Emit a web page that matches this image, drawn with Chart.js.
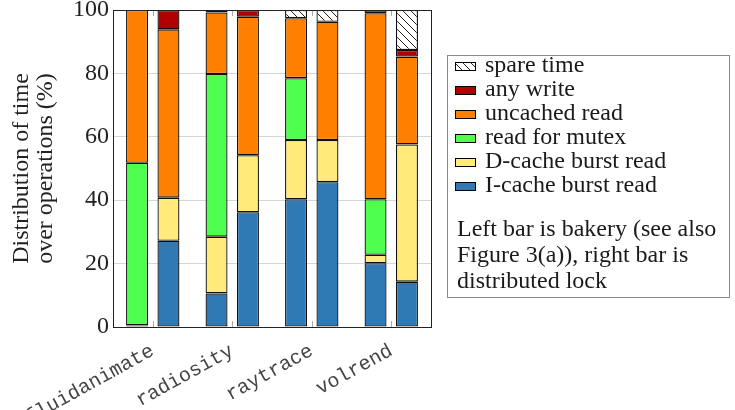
<!DOCTYPE html>
<html>
<head>
<meta charset="utf-8">
<title>Distribution of time over operations</title>
<script src="https://cdn.jsdelivr.net/npm/chart.js@4"></script>
<style>
  html, body { margin: 0; padding: 0; background: #fff; }
  #wrap { width: 735px; height: 410px; }
</style>
</head>
<body>
<div id="wrap"><canvas id="timeChart" width="735" height="410"></canvas></div>
<script>
// benchmarks, left bar = bakery, right bar = distributed lock
const categories = ['fluidanimate', 'radiosity', 'raytrace', 'volrend'];

// percent of time per operation (segments, bottom to top)
const icacheBakery   = [0.5, 10.6, 40.3, 20.1];
const icacheLock     = [27.2, 36.2, 45.7, 14.3];
const dcacheBakery   = [0, 17.9, 18.7, 2.7];
const dcacheLock     = [13.6, 18.0, 13.3, 43.3];
const mutexBakery    = [51.3, 51.3, 19.5, 17.5];
const mutexLock      = [0, 0, 0, 0];
const uncachedBakery = [48.2, 19.4, 18.9, 58.7];
const uncachedLock   = [53.1, 43.7, 37.3, 27.7];
const writeBakery    = [0, 0.8, 0, 1.0];
const writeLock      = [6.1, 2.1, 0, 2.1];
const spareBakery    = [0, 0, 2.6, 0];
const spareLock      = [0, 0, 3.7, 12.6];

const seriesNames = ['I-cache burst read', 'D-cache burst read', 'read for mutex',
                     'uncached read', 'any write', 'spare time'];
const bakeryData = [icacheBakery, dcacheBakery, mutexBakery, uncachedBakery, writeBakery, spareBakery];
const lockData   = [icacheLock, dcacheLock, mutexLock, uncachedLock, writeLock, spareLock];
const noteLines  = ['Left bar is bakery (see also', 'Figure 3(a)), right bar is', 'distributed lock'];

// hatch for spare time
function makeHatch() {
  const c = document.createElement('canvas');
  c.width = 8; c.height = 8;
  const g = c.getContext('2d');
  g.fillStyle = '#fff';
  g.fillRect(0, 0, 8, 8);
  g.strokeStyle = '#222';
  g.lineWidth = 1;
  g.beginPath();
  g.moveTo(0, 0); g.lineTo(8, 8);
  g.moveTo(-4, 4); g.lineTo(4, 12);
  g.moveTo(4, -4); g.lineTo(12, 4);
  g.stroke();
  return g.createPattern(c, 'repeat');
}
const hatch = makeHatch();
const colors = ['#2f79b5', '#ffea7a', '#4eff4e', '#ff8000', '#b00000', hatch];

const serif = 'Liberation Serif';

const datasets = [];
seriesNames.forEach(function (name, i) {
  [['bakery', bakeryData[i]], ['lock', lockData[i]]].forEach(function (pair) {
    datasets.push({
      label: name,
      stack: pair[0],
      data: pair[1].map(v => v === 0 ? null : v),
      backgroundColor: colors[i],
      borderColor: '#111',
      borderWidth: 1.3,
      borderSkipped: false,
      categoryPercentage: 0.79,
      barPercentage: 0.70
    });
  });
});

// frame around plot + small category ticks
const framePlugin = {
  id: 'frame',
  afterDatasetsDraw(chart) {
    const ctx = chart.ctx, a = chart.chartArea, x = chart.scales.x;
    ctx.save();
    ctx.strokeStyle = '#aaa';
    ctx.lineWidth = 1;
    ctx.beginPath();
    categories.forEach(function (c, i) {
      const px = Math.round(x.getPixelForValue(i)) + 0.5;
      ctx.moveTo(px, a.top); ctx.lineTo(px, a.top + 6);
      ctx.moveTo(px, a.bottom); ctx.lineTo(px, a.bottom - 6);
    });
    ctx.stroke();
    ctx.strokeStyle = '#222';
    ctx.strokeRect(Math.round(a.left) + 0.5, Math.round(a.top) + 0.5,
                   Math.round(a.right - a.left), Math.round(a.bottom - a.top));
    ctx.restore();
  }
};

// legend box with note
const legendPlugin = {
  id: 'boxLegend',
  afterDraw(chart) {
    const ctx = chart.ctx;
    ctx.save();
    ctx.strokeStyle = '#888';
    ctx.lineWidth = 1;
    ctx.strokeRect(447.5, 55.5, 282, 242);
    ctx.font = '24px "' + serif + '"';
    ctx.fillStyle = '#1a1a1a';
    ctx.textBaseline = 'alphabetic';
    for (let k = 0; k < seriesNames.length; k++) {
      const i = seriesNames.length - 1 - k;
      const base = 72 + k * 24;
      ctx.fillStyle = colors[i];
      ctx.fillRect(455, base - 10, 20, 8);
      ctx.strokeStyle = '#000';
      ctx.strokeRect(455.5, base - 9.5, 20, 8);
      ctx.fillStyle = '#1a1a1a';
      ctx.fillText(seriesNames[i], 485, base);
    }
    noteLines.forEach(function (t, j) {
      ctx.fillText(t, 457, 236 + j * 26);
    });
    ctx.restore();
  }
};

new Chart(document.getElementById('timeChart'), {
  type: 'bar',
  data: { labels: categories, datasets: datasets },
  options: {
    responsive: false,
    animation: false,
    devicePixelRatio: 1,
    layout: { padding: { top: 10, right: 304, left: 0, bottom: 0 } },
    plugins: { legend: { display: false }, tooltip: { enabled: false } },
    scales: {
      x: {
        stacked: true,
        grid: { display: false },
        border: { display: false },
        ticks: {
          autoSkip: false,
          minRotation: 29,
          maxRotation: 29,
          padding: 4,
          color: '#444',
          font: { family: 'Liberation Mono', size: 20 }
        },
        afterFit(scale) { scale.height = 83; scale.paddingLeft = 0; scale.paddingRight = 0; }
      },
      y: {
        stacked: true,
        min: 0,
        max: 100,
        grid: { color: '#d6d6d6', drawTicks: false },
        border: { display: false },
        ticks: {
          stepSize: 10,
          padding: 4,
          color: '#222',
          font: { family: serif, size: 24 },
          callback: v => (v % 20 === 0 ? v : '')
        },
        title: {
          display: true,
          text: ['Distribution of time', 'over operations (%)'],
          color: '#222',
          padding: { top: 10, bottom: 0 },
          font: { family: serif, size: 24, lineHeight: 1.0 }
        },
        afterFit(scale) { scale.width = 113; scale.paddingTop = 0; scale.paddingBottom = 0; }
      }
    }
  },
  plugins: [framePlugin, legendPlugin]
});
</script>
</body>
</html>
